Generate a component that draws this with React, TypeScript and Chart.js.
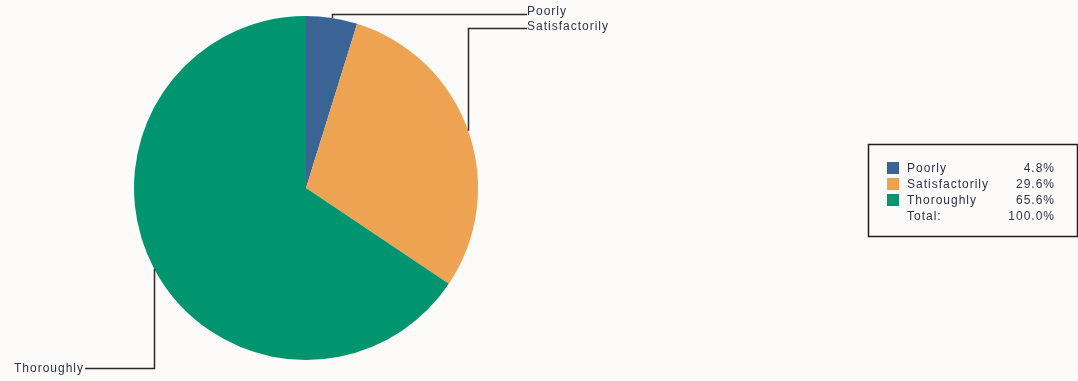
import React, { useEffect, useRef } from "react";
import { Chart, registerables } from "chart.js";

Chart.register(...registerables);

const categories = ["Poorly", "Satisfactorily", "Thoroughly"];
const values = [4.8, 29.6, 65.6];
const valueLabels = ["4.8%", "29.6%", "65.6%"];
const totalLabel = "100.0%";
const colors = ["#3a6496", "#eea352", "#00946f"];

const BG = "#fcfbfa";
const FONT = "12px 'Liberation Sans', Arial, sans-serif";
const TEXT = "#2a3448";

const leaderPlugin = {
  id: "leaders",
  afterDatasetsDraw(chart: any) {
    const ctx = chart.ctx;
    const meta = chart.getDatasetMeta(0);
    // label anchor positions (layout only)
    const lineY = [14, 28, 368];
    const textDy = [-2, -1.5, 1];
    const labelX = [527, 527, 85];
    const sides = ["right", "right", "left"];
    ctx.save();
    ctx.strokeStyle = "#2b2b2b";
    ctx.lineWidth = 1.5;
    ctx.font = FONT;
    (ctx as any).letterSpacing = "1px";
    ctx.fillStyle = TEXT;
    ctx.textBaseline = "middle";
    meta.data.forEach((arc: any, i: number) => {
      const { x, y, startAngle, endAngle, outerRadius } = arc.getProps(
        ["x", "y", "startAngle", "endAngle", "outerRadius"],
        true
      );
      const mid = (startAngle + endAngle) / 2;
      const ex = x + Math.cos(mid) * outerRadius;
      const ey = y + Math.sin(mid) * outerRadius;
      ctx.beginPath();
      ctx.moveTo(Math.round(ex) + 0.5, ey);
      ctx.lineTo(Math.round(ex) + 0.5, lineY[i] + 0.5);
      ctx.lineTo(labelX[i], lineY[i] + 0.5);
      ctx.stroke();
      if (sides[i] === "right") {
        ctx.textAlign = "left";
        ctx.fillText(categories[i], labelX[i], lineY[i] + textDy[i]);
      } else {
        ctx.textAlign = "right";
        ctx.fillText(categories[i], labelX[i] - 1, lineY[i] + textDy[i]);
      }
    });
    ctx.restore();
  },
};

const legendPlugin = {
  id: "boxLegend",
  afterDraw(chart: any) {
    const ctx = chart.ctx;
    ctx.save();
    const bx = 868, by = 144, bw = 209, bh = 92;
    ctx.strokeStyle = "#1e1e1e";
    ctx.lineWidth = 1.5;
    ctx.strokeRect(bx + 0.5, by + 0.5, bw, bh);
    ctx.font = FONT;
    (ctx as any).letterSpacing = "1px";
    ctx.textBaseline = "middle";
    const rowY = [169, 185, 201, 217];
    categories.forEach((c, i) => {
      ctx.fillStyle = colors[i];
      ctx.fillRect(887, rowY[i] - 7, 12, 12);
      ctx.fillStyle = TEXT;
      ctx.textAlign = "left";
      ctx.fillText(c, 907, rowY[i]);
      ctx.textAlign = "right";
      ctx.fillText(valueLabels[i], 1055, rowY[i]);
    });
    ctx.fillStyle = TEXT;
    ctx.textAlign = "left";
    ctx.fillText("Total:", 907, rowY[3]);
    ctx.textAlign = "right";
    ctx.fillText(totalLabel, 1055, rowY[3]);
    ctx.restore();
  },
};

const bgPlugin = {
  id: "bg",
  beforeDraw(chart: any) {
    const ctx = chart.ctx;
    ctx.save();
    ctx.fillStyle = BG;
    ctx.fillRect(0, 0, chart.width, chart.height);
    ctx.restore();
  },
};

export default function App() {
  const ref = useRef<HTMLCanvasElement | null>(null);
  useEffect(() => {
    document.body.style.margin = "0";
    document.body.style.background = BG;
    const chart = new Chart(ref.current as HTMLCanvasElement, {
      type: "pie",
      data: {
        labels: categories,
        datasets: [
          {
            data: values,
            backgroundColor: colors,
            borderWidth: 0,
          },
        ],
      },
      options: {
        responsive: false,
        animation: false,
        layout: { padding: { left: 134, right: 600, top: 16, bottom: 21 } },
        plugins: {
          legend: { display: false },
          tooltip: { enabled: false },
        },
      },
      plugins: [bgPlugin, leaderPlugin, legendPlugin],
    });
    return () => chart.destroy();
  }, []);
  return (
    <div style={{ position: "fixed", left: 0, top: 0, width: 1078, height: 381 }}>
      <canvas ref={ref} width={1078} height={381} style={{ width: 1078, height: 381 }} />
    </div>
  );
}
